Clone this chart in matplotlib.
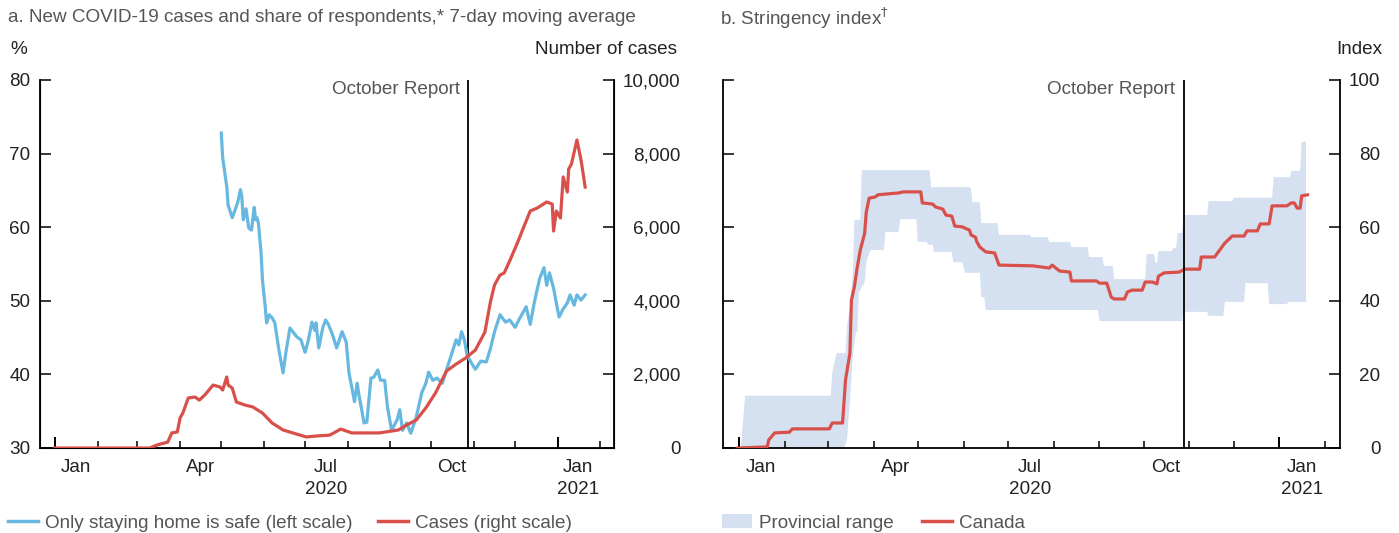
import matplotlib.pyplot as plt
import numpy as np
import pandas as pd
from matplotlib.lines import Line2D
from matplotlib.patches import Patch
from matplotlib.ticker import FuncFormatter

plt.rcParams['font.family'] = ['Liberation Sans', 'DejaVu Sans']

# days are counted from 1 Jan 2020
start = pd.Timestamp('2020-01-01')

# panel a: share who think only staying home is safe (%), 7-day avg
blue_day = [121, 122, 125, 126, 129, 131, 133, 135, 136, 137,
            139, 141, 143, 145, 146, 147, 148, 150, 151, 153,
            154, 156, 158, 160, 163, 166, 168, 171, 176, 179,
            182, 184, 187, 189, 190, 192, 195, 197, 199, 202,
            205, 209, 212, 214, 216, 218, 220, 221, 225, 227,
            230, 232, 235, 237, 240, 242, 245, 249, 251, 253,
            256, 259, 263, 267, 270, 272, 275, 278, 282, 285,
            289, 292, 294, 296, 298, 300, 304, 306, 310, 314,
            317, 320, 324, 328, 331, 335, 338, 341, 343, 346,
            349, 351, 353, 356, 358, 360, 363, 365, 367, 370,
            373, 375, 378, 380, 383, 386]
blue_val = [72.8, 69.5, 65.5, 63.0, 61.3, 62.3, 63.4, 65.1, 64.1, 61.0,
            62.5, 59.9, 59.6, 62.7, 61.0, 61.3, 60.6, 56.5, 52.8, 49.2,
            47.0, 48.1, 47.7, 47.0, 43.3, 40.2, 42.9, 46.3, 45.1, 44.7,
            43.0, 44.3, 47.1, 46.0, 47.0, 43.6, 46.4, 47.4, 46.8, 45.4,
            43.6, 45.8, 44.4, 40.2, 38.3, 36.3, 38.8, 37.5, 33.4, 33.5,
            39.5, 39.6, 40.6, 39.2, 39.2, 35.6, 32.4, 33.8, 35.2, 32.4,
            33.4, 32.0, 34.2, 37.5, 38.8, 40.3, 39.2, 39.5, 38.8, 40.6,
            42.9, 44.7, 44.0, 45.8, 44.7, 42.6, 41.3, 40.7, 41.8, 41.7,
            43.5, 45.8, 48.1, 47.1, 47.4, 46.4, 47.5, 48.5, 49.2, 46.8,
            49.8, 51.5, 53.1, 54.5, 52.1, 53.8, 51.7, 49.7, 47.8, 48.9,
            49.7, 50.8, 49.4, 50.8, 50.1, 50.8]

# panel a: new cases, 7-day avg
case_day = [0, 69, 74, 82, 85, 89, 91, 93, 97, 102,
            105, 109, 115, 120, 122, 125, 126, 129, 132, 138,
            144, 151, 158, 166, 173, 183, 190, 200, 208, 216,
            227, 236, 245, 250, 256, 263, 270, 277, 285, 292,
            299, 306, 313, 317, 320, 324, 327, 331, 336, 341,
            346, 351, 358, 362, 363, 365, 368, 370, 373, 374,
            376, 380, 383, 386]
case_val = [0, 0, 80, 160, 410, 435, 815, 950, 1360, 1385,
            1300, 1440, 1710, 1660, 1575, 1930, 1710, 1630, 1250, 1170,
            1115, 950, 680, 490, 410, 300, 325, 350, 515, 410,
            410, 410, 460, 490, 625, 760, 1090, 1495, 2090, 2280,
            2445, 2660, 3150, 3970, 4430, 4700, 4755, 5080, 5515, 5980,
            6440, 6520, 6685, 6630, 5895, 6440, 6250, 7365, 6955, 7580,
            7715, 8370, 7825, 7090]

# panel b: stringency index, Canada
can_day = [-1, 19, 20, 24, 34, 36, 61, 63, 70, 72,
           75, 76, 78, 80, 82, 85, 86, 88, 92, 94,
           99, 108, 111, 123, 124, 131, 133, 138, 140, 144,
           146, 151, 156, 157, 160, 161, 163, 167, 173, 176,
           199, 210, 212, 217, 224, 225, 242, 244, 249, 252,
           254, 261, 263, 266, 273, 275, 280, 283, 284, 288,
           298, 302, 312, 313, 322, 325, 329, 334, 342, 344,
           351, 353, 359, 361, 371, 374, 376, 378, 380, 381,
           385]
can_val = [0, 0.3, 2.2, 4.1, 4.3, 5.2, 5.2, 6.8, 6.8, 18.5,
           25.8, 40.2, 43.8, 49.2, 53.8, 58.4, 63.9, 67.9, 68.2, 68.8,
           69.0, 69.3, 69.6, 69.6, 66.6, 66.3, 65.5, 64.9, 63.3, 63.0,
           60.3, 60.1, 59.2, 57.9, 57.3, 56.0, 54.6, 53.3, 53.0, 49.7,
           49.5, 48.9, 49.7, 48.1, 47.8, 45.4, 45.4, 44.8, 44.8, 41.0,
           40.5, 40.5, 42.4, 42.9, 42.9, 45.1, 45.1, 44.6, 46.7, 47.6,
           47.8, 48.6, 48.6, 51.9, 51.9, 53.5, 55.7, 57.6, 57.6, 59.0,
           59.0, 60.9, 60.9, 65.8, 65.8, 66.6, 66.6, 65.2, 65.2, 68.5,
           68.8]

# panel b: provincial range (upper / lower edge)
up_day = [1, 4, 62, 63, 66, 72, 73, 75, 77, 78,
          82, 83, 129, 130, 156, 157, 158, 163, 164, 175,
          176, 197, 198, 209, 210, 224, 225, 236, 237, 246,
          247, 253, 254, 275, 276, 281, 282, 283, 284, 293,
          294, 296, 297, 300, 301, 317, 318, 334, 335, 361,
          362, 373, 374, 380, 381, 384]
up_val = [0, 14.2, 14.2, 20.4, 25.8, 25.8, 33, 38.3, 48, 62,
          62, 75.5, 75.5, 70.9, 70.9, 70.5, 66.8, 66.8, 61.1, 61.1,
          57.9, 57.9, 57.3, 57.3, 56.0, 56.0, 54.6, 54.6, 51.9, 51.9,
          49.5, 49.5, 45.9, 45.9, 52.7, 52.7, 50.3, 50.3, 53.5, 53.5,
          54.3, 54.3, 58.4, 58.4, 63.3, 63.3, 67.1, 67.1, 68.0, 68.0,
          73.6, 73.6, 75.3, 75.3, 83.2, 83.2]
low_day = [1, 71, 73, 75, 77, 79, 80, 81, 83, 85,
           86, 89, 98, 99, 108, 109, 120, 121, 127, 128,
           131, 132, 144, 145, 151, 153, 163, 164, 166, 167,
           243, 244, 300, 301, 317, 318, 328, 329, 342, 343,
           358, 359, 371, 372, 384]
low_val = [0, 0, 2.2, 13, 25.3, 31.5, 31.5, 42.1, 43.8, 45,
           50.5, 53.8, 53.8, 58.7, 58.7, 62.2, 62.2, 56.0, 56.0, 55.2,
           55.2, 53.3, 53.3, 50.5, 50.5, 47.6, 47.6, 41.0, 41.0, 37.5,
           37.5, 34.5, 34.5, 37.0, 37.0, 35.9, 35.9, 39.7, 39.7, 44.8,
           44.8, 39.1, 39.1, 39.7, 39.7]

oct_report = pd.Timestamp('2020-10-28')

month_ticks = pd.date_range('2020-01-01', '2021-02-01', freq='MS')
year_ticks = [pd.Timestamp('2020-01-01'), pd.Timestamp('2021-01-01')]
label_pos = pd.to_datetime(['2020-01-16', '2020-04-16', '2020-07-16', '2020-10-16', '2021-01-16'])
label_txt = ['Jan', 'Apr', 'Jul\n2020', 'Oct', 'Jan\n2021']

blue = '#67b8e0'
red = '#d9504a'
band = '#d5e0f1'
txt = '#222222'
grey = '#555555'
fs = 13.6


def days(d):
    return start + pd.to_timedelta(d, unit='D')


def style_x(ax):
    ax.set_xlim(pd.Timestamp('2019-12-21'), pd.Timestamp('2021-02-11'))
    ax.set_xticks(month_ticks)
    ax.set_xticklabels([])
    ax.tick_params(axis='x', which='major', direction='in', length=5, width=1.1)
    ax.set_xticks(label_pos, minor=True)
    ax.set_xticklabels(label_txt, minor=True, linespacing=1.4)
    ax.tick_params(axis='x', which='minor', length=0, pad=8, labelsize=fs, labelcolor=txt)
    ax.vlines(year_ticks, 0, 0.03, transform=ax.get_xaxis_transform(), color='black', lw=1.4)
    ax.spines['top'].set_visible(False)
    for s in ['left', 'right', 'bottom']:
        ax.spines[s].set_linewidth(1.3)


fig = plt.figure(figsize=(13.99, 5.33), dpi=100)

# ---- panel a
ax1 = fig.add_axes([40 / 1399, 85 / 533, 574 / 1399, 368 / 533])
ax2 = ax1.twinx()
ax1.plot(days(blue_day), blue_val, color=blue, lw=2.3, zorder=3)
ax2.plot(days(case_day), case_val, color=red, lw=2.3, zorder=3)
ax1.axvline(oct_report, color='black', lw=1.3)
style_x(ax1)
ax2.spines['top'].set_visible(False)
ax1.set_ylim(30, 80)
ax1.set_yticks(np.arange(30, 81, 10))
ax1.tick_params(axis='y', direction='in', length=8, width=1.1, labelsize=fs, labelcolor=txt, pad=7)
ax2.set_ylim(0, 10000)
ax2.set_yticks(np.arange(0, 10001, 2000))
ax2.yaxis.set_major_formatter(FuncFormatter(lambda v, p: f'{int(v):,}'))
ax2.tick_params(axis='y', direction='in', length=8, width=1.1, labelsize=fs, labelcolor=txt, pad=48)
for t in ax2.get_yticklabels():
    t.set_horizontalalignment('right')
ax1.annotate('October Report', xy=(oct_report, 1), xycoords=('data', 'axes fraction'),
             xytext=(-6, -1), textcoords='offset points', ha='right', va='top',
             fontsize=fs, color=grey)

# ---- panel b
ax3 = fig.add_axes([723 / 1399, 85 / 533, 617 / 1399, 368 / 533])
ax3.fill(np.concatenate([days(up_day), days(low_day)[::-1]]),
         np.concatenate([up_val, low_val[::-1]]), color=band, lw=0, zorder=1)
ax3.plot(days(can_day), can_val, color=red, lw=2.3, zorder=3)
ax3.axvline(oct_report, color='black', lw=1.3, zorder=4)
style_x(ax3)
ax3.set_ylim(0, 100)
ax3.set_yticks(np.arange(0, 101, 20))
ax3.tick_params(axis='y', direction='in', length=8, width=1.1, labelsize=fs, labelcolor=txt,
                left=True, right=True, labelleft=False, labelright=True, pad=29)
for t in ax3.get_yticklabels():
    t.set_horizontalalignment('right')
ax3.annotate('October Report', xy=(oct_report, 1), xycoords=('data', 'axes fraction'),
             xytext=(-6, -1), textcoords='offset points', ha='right', va='top',
             fontsize=fs, color=grey)

# ---- titles and unit labels
fig.text(8 / 1399, 1 - 18 / 533, 'a. New COVID-19 cases and share of respondents,* 7-day moving average',
         fontsize=fs, color=grey, va='center')
fig.text(720 / 1399, 1 - 18 / 533, r'b. Stringency index$^{\dagger}$', fontsize=fs, color=grey, va='center')
fig.text(10 / 1399, 1 - 50 / 533, '%', fontsize=fs, color=txt, va='center')
fig.text(677 / 1399, 1 - 50 / 533, 'Number of cases', fontsize=fs, color=txt, va='center', ha='right')
fig.text(1382 / 1399, 1 - 50 / 533, 'Index', fontsize=fs, color=txt, va='center', ha='right')

# ---- legends
h1 = [Line2D([], [], color=blue, lw=2.5), Line2D([], [], color=red, lw=2.5)]
fig.legend(h1, ['Only staying home is safe (left scale)', 'Cases (right scale)'],
           loc='center left', bbox_to_anchor=(8 / 1399, 1 - 523 / 533), ncol=2, frameon=False,
           fontsize=fs, handlelength=1.6, handletextpad=0.35, columnspacing=1.35,
           labelcolor=grey, borderpad=0, borderaxespad=0)
h2 = [Patch(facecolor=band, edgecolor='none'), Line2D([], [], color=red, lw=2.5)]
fig.legend(h2, ['Provincial range', 'Canada'],
           loc='center left', bbox_to_anchor=(722 / 1399, 1 - 523 / 533), ncol=2, frameon=False,
           fontsize=fs, handlelength=1.6, handletextpad=0.35, columnspacing=1.5,
           labelcolor=grey, borderpad=0, borderaxespad=0)

fig.savefig('out.png', dpi=100)
